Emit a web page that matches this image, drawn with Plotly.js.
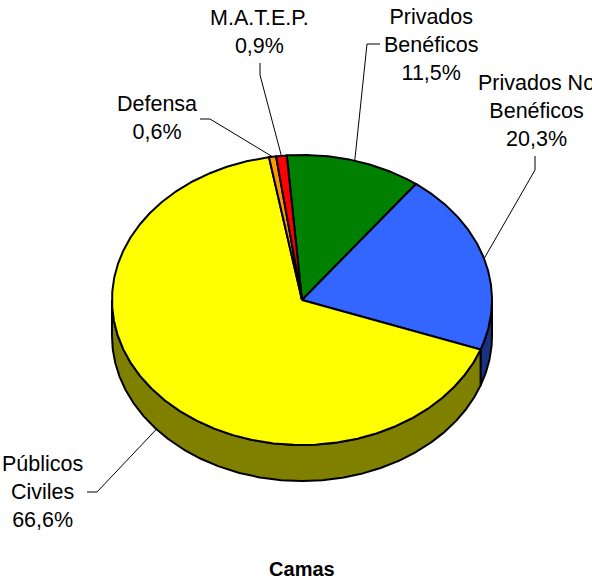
<!DOCTYPE html>
<html>
<head>
<meta charset="utf-8">
<script src="https://cdn.plot.ly/plotly-3.0.1.min.js"></script>
<style>html,body{margin:0;padding:0;background:#fff;}#chart{width:592px;height:581px;}</style>
</head>
<body>
<div id="chart"></div>
<script>
// ---- data (clockwise from the top) ----
const categories = ['Privados Benéficos', 'Privados No Benéficos', 'Públicos Civiles', 'Defensa', 'M.A.T.E.P.'];
const labelText = ['Privados<br>Benéficos', 'Privados No<br>Benéficos', 'Públicos<br>Civiles', 'Defensa', 'M.A.T.E.P.'];
const values = [11.5, 20.3, 66.6, 0.6, 0.9];
const pctText = ['11,5%', '20,3%', '66,6%', '0,6%', '0,9%'];
const topColors = ['#008000', '#3366FF', '#FFFF00', '#FF9900', '#FF0000'];
const sideColors = ['#004000', '#1A3380', '#808000', '#804C00', '#800000'];
const chartTitle = 'Camas';

// ---- geometry (layout) ----
const cx = 302, cy = 300, rx = 190, ry = 145, depth = 36, startDeg = -4.6;
const FONT = 'Liberation Sans, Arial, sans-serif';
const pt = (deg, dy) => {
  const r = deg * Math.PI / 180;
  return [cx + rx * Math.sin(r), cy - ry * Math.cos(r) + (dy || 0)];
};
const arc = (a, b, dy) => {
  const pts = [];
  const n = Math.max(2, Math.ceil(Math.abs(b - a) / 0.5));
  for (let i = 0; i <= n; i++) pts.push(pt(a + (b - a) * i / n, dy));
  return pts;
};

const total = values.reduce((s, v) => s + v, 0);
const slices = [];
let acc = startDeg;
values.forEach((v, i) => {
  const a = acc, b = acc + v / total * 360;
  slices.push({a, b, mid: (a + b) / 2, i});
  acc = b;
});

const traces = [];
// side walls (visible front: 90..270)
slices.forEach(s => {
  const a = Math.max(s.a, 90), b = Math.min(s.b, 270);
  if (b <= a) return;
  const top = arc(a, b, 0), bot = arc(b, a, depth);
  const poly = top.concat(bot);
  poly.push(top[0]);
  traces.push({type: 'scatter', mode: 'lines', x: poly.map(p => p[0]), y: poly.map(p => p[1]),
    fill: 'toself', fillcolor: sideColors[s.i], line: {color: '#000', width: 2}, hoverinfo: 'skip', showlegend: false});
});
// top faces
slices.forEach(s => {
  const poly = [[cx, cy]].concat(arc(s.a, s.b, 0));
  poly.push([cx, cy]);
  traces.push({type: 'scatter', mode: 'lines', x: poly.map(p => p[0]), y: poly.map(p => p[1]),
    fill: 'toself', fillcolor: topColors[s.i], line: {color: '#000', width: 2}, hoverinfo: 'skip', showlegend: false});
});

// label placement (layout constants, indexed like categories)
const labelPos = [
  {x: 431, y: 45, line: [[380, 44], [367, 44]]},
  {x: 536, y: 111, line: [[535, 156], [535, 170]]},
  {x: 42, y: 492, line: [[87, 492], [97, 492]]},
  {x: 157, y: 118, line: [[200, 119], [210, 119]]},
  {x: 259, y: 32, line: [[260, 63], [260, 75]]}
];

const annotations = [];
slices.forEach(s => {
  const L = labelPos[s.i];
  const c = Math.cos(s.mid * Math.PI / 180);
  const anchor = pt(s.mid, c < 0 ? depth : 0);
  const pts = L.line.concat([anchor]);
  traces.push({type: 'scatter', mode: 'lines', x: pts.map(p => p[0]), y: pts.map(p => p[1]),
    line: {color: '#000', width: 1}, hoverinfo: 'skip', showlegend: false});
  annotations.push({xref: 'x', yref: 'y', x: L.x, y: L.y, text: labelText[s.i] + '<br>' + pctText[s.i],
    showarrow: false, xanchor: 'center', yanchor: 'middle', align: 'center',
    font: {family: FONT, size: 21.5, color: '#000'}});
});

const layout = {
  width: 592, height: 581,
  margin: {l: 0, r: 0, t: 0, b: 0, pad: 0},
  paper_bgcolor: '#fff', plot_bgcolor: '#fff',
  xaxis: {range: [0, 592], visible: false, fixedrange: true},
  yaxis: {range: [581, 0], visible: false, fixedrange: true},
  showlegend: false, hovermode: false,
  title: {text: '<b>' + chartTitle + '</b>', font: {family: FONT, size: 20, color: '#000'},
    x: 0.51, xanchor: 'center', y: 1 - 569 / 581, yanchor: 'middle', yref: 'container'},
  annotations: annotations
};

Plotly.newPlot('chart', traces, layout, {staticPlot: true, displayModeBar: false});
</script>
</body>
</html>
